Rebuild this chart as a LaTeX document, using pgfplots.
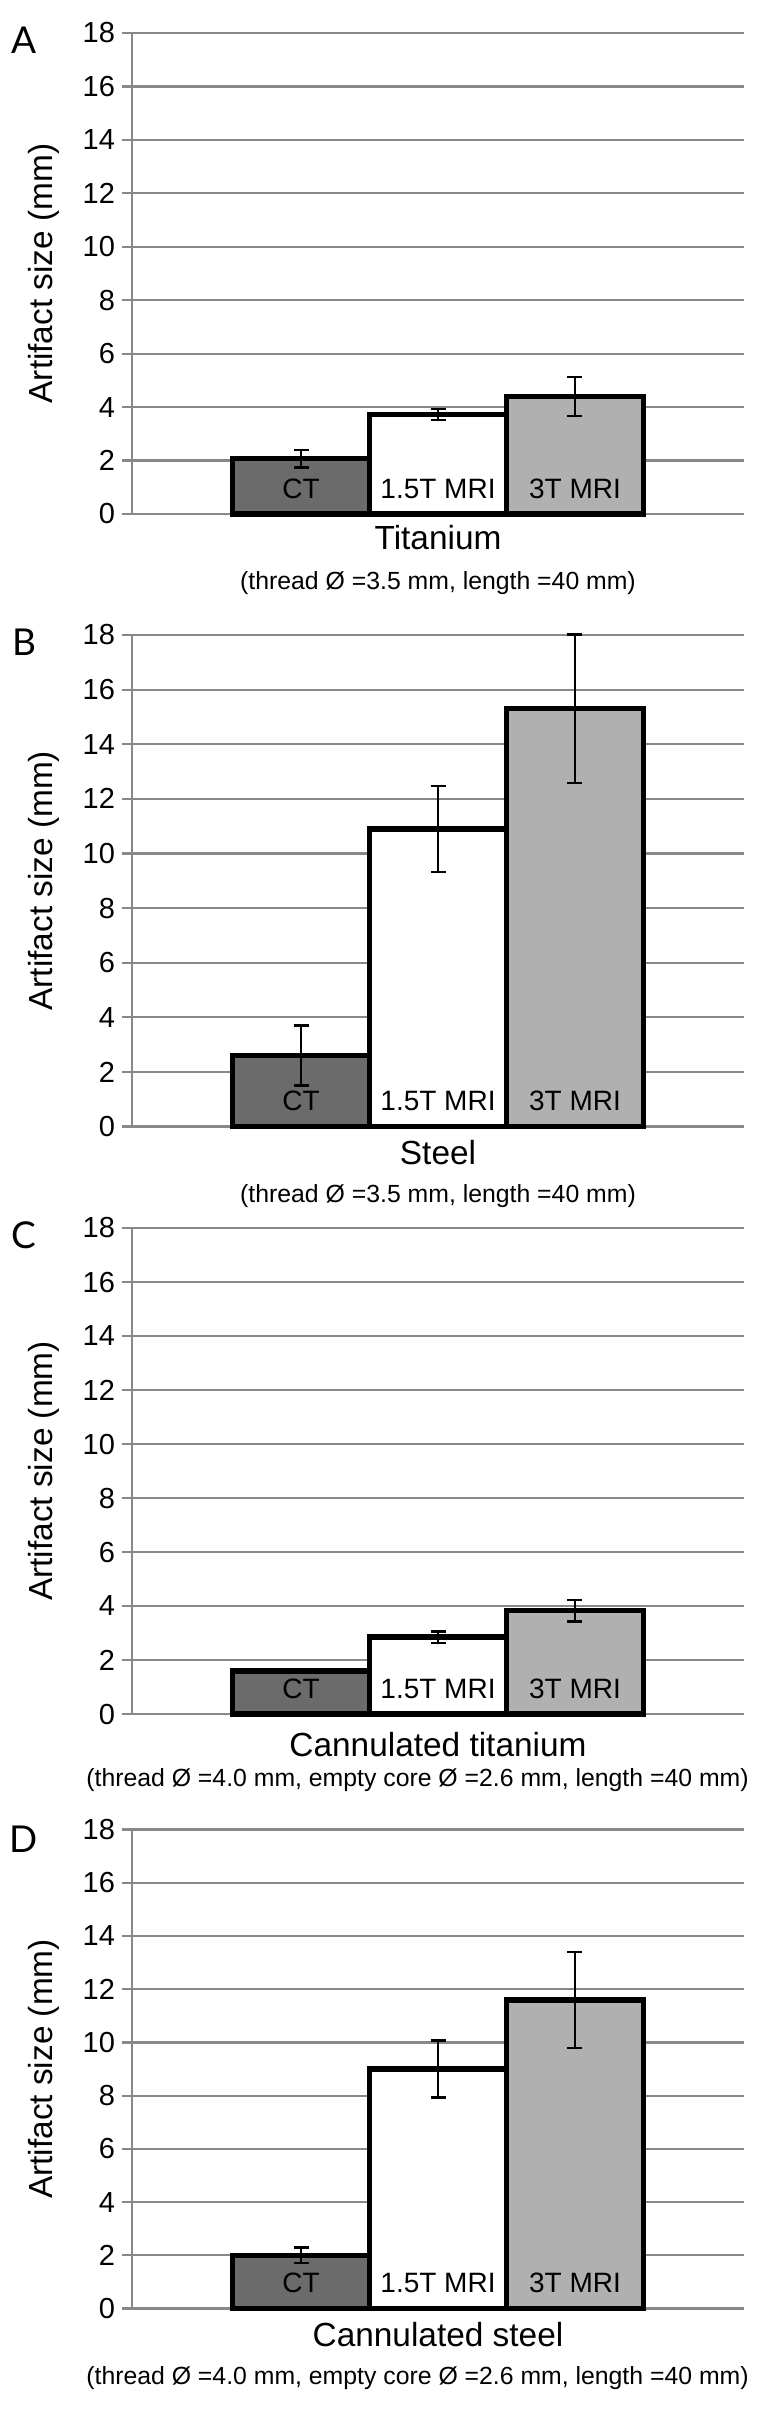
\documentclass[border=0pt]{standalone}
\usepackage{fontspec}
\setmainfont{Liberation Sans}
\newfontfamily\panelfont{Lato}
\usepackage{pgfplots}
\pgfplotsset{compat=1.18}
\definecolor{gridgray}{HTML}{888888}
\definecolor{ctgray}{HTML}{6B6B6B}
\definecolor{mrigray}{HTML}{B0B0B0}
\tikzset{barlab/.style={font=\fontsize{14}{17}\selectfont, anchor=base, yshift=8pt}}
\pgfplotsset{
  panel/.style={
    scale only axis, width=306pt,
    xmin=-0.234, xmax=4.234, ymin=0, ymax=18,
    ytick={0,2,...,18},
    xtick=\empty,
    axis lines*=left,
    axis line style={draw=gridgray, line width=1.1pt},
    ymajorgrids, grid style={draw=gridgray, line width=1.1pt},
    tick align=outside, major tick length=5pt,
    y tick style={draw=gridgray, line width=1.1pt},
    /pgf/number format/assume math mode=true,
    yticklabel style={font=\fontsize{14.5}{17}\selectfont},
    ylabel={Artifact size (mm)},
    ylabel style={font=\fontsize{16.7}{20}\selectfont, at={(axis description cs:-0.1438,0.5)}, anchor=center},
    clip=false,
  },
  barstyle/.style={ybar, bar width=1, bar shift=0pt, draw=black, line width=2.7pt,
    error bars/y dir=both, error bars/y explicit,
    error bars/error bar style={line width=1.1pt, black},
    error bars/error mark options={rotate=90, mark size=3.75pt, line width=1.1pt, black}},
}
\begin{document}
\begin{tikzpicture}
\useasboundingbox (0,0) rectangle (378pt,-1206pt);
% ---------- A ----------
\begin{axis}[panel, anchor=south west, at={(66pt,-257pt)}, height=240.5pt,
  xlabel={Titanium},
  xlabel style={font=\fontsize{16.7}{20}\selectfont, at={(axis description cs:0.5,-0.050)}, anchor=center}]
\addplot[barstyle, fill=ctgray] coordinates {(1,2.07) +- (0,0.33)};
\addplot[barstyle, fill=white] coordinates {(2,3.73) +- (0,0.2)};
\addplot[barstyle, fill=mrigray] coordinates {(3,4.4) +- (0,0.72)};
\node[barlab] at (axis cs:1,0) {CT};
\node[barlab] at (axis cs:2,0) {1.5T MRI};
\node[barlab] at (axis cs:3,0) {3T MRI};
\node[font=\fontsize{12.4}{15}\selectfont] at (axis description cs:0.5,-0.143) {(thread Ø =3.5 mm, length =40 mm)};
\node[font=\panelfont\fontsize{18.5}{22}\selectfont] at (axis description cs:-0.1765,0.985) {A};
\end{axis}
% ---------- B ----------
\begin{axis}[panel, anchor=south west, at={(66pt,-563.25pt)}, height=245.75pt,
  xlabel={Steel},
  xlabel style={font=\fontsize{16.7}{20}\selectfont, at={(axis description cs:0.5,-0.053)}, anchor=center}]
\addplot[barstyle, fill=ctgray] coordinates {(1,2.6) +- (0,1.1)};
\addplot[barstyle, fill=white] coordinates {(2,10.9) +- (0,1.58)};
\addplot[barstyle, fill=mrigray] coordinates {(3,15.3) +- (0,2.72)};
\node[barlab] at (axis cs:1,0) {CT};
\node[barlab] at (axis cs:2,0) {1.5T MRI};
\node[barlab] at (axis cs:3,0) {3T MRI};
\node[font=\fontsize{12.4}{15}\selectfont] at (axis description cs:0.5,-0.142) {(thread Ø =3.5 mm, length =40 mm)};
\node[font=\panelfont\fontsize{18.5}{22}\selectfont] at (axis description cs:-0.1765,0.985) {B};
\end{axis}
% ---------- C ----------
\begin{axis}[panel, anchor=south west, at={(66pt,-857pt)}, height=243pt,
  xlabel={Cannulated titanium},
  xlabel style={font=\fontsize{16.7}{20}\selectfont, at={(axis description cs:0.5,-0.063)}, anchor=center}]
\addplot[barstyle, fill=ctgray] coordinates {(1,1.6) +- (0,0.08)};
\addplot[barstyle, fill=white] coordinates {(2,2.85) +- (0,0.21)};
\addplot[barstyle, fill=mrigray] coordinates {(3,3.83) +- (0,0.4)};
\node[barlab] at (axis cs:1,0) {CT};
\node[barlab] at (axis cs:2,0) {1.5T MRI};
\node[barlab] at (axis cs:3,0) {3T MRI};
\node[font=\fontsize{12.4}{15}\selectfont] at (axis description cs:0.4665,-0.136) {(thread Ø =4.0 mm, empty core Ø =2.6 mm, length =40 mm)};
\node[font=\panelfont\fontsize{18.5}{22}\selectfont] at (axis description cs:-0.1765,0.985) {C};
\end{axis}
% ---------- D ----------
\begin{axis}[panel, anchor=south west, at={(66pt,-1154.25pt)}, height=239.5pt,
  xlabel={Cannulated steel},
  xlabel style={font=\fontsize{16.7}{20}\selectfont, at={(axis description cs:0.5,-0.055)}, anchor=center}]
\addplot[barstyle, fill=ctgray] coordinates {(1,2.0) +- (0,0.29)};
\addplot[barstyle, fill=white] coordinates {(2,9.0) +- (0,1.07)};
\addplot[barstyle, fill=mrigray] coordinates {(3,11.6) +- (0,1.8)};
\node[barlab] at (axis cs:1,0) {CT};
\node[barlab] at (axis cs:2,0) {1.5T MRI};
\node[barlab] at (axis cs:3,0) {3T MRI};
\node[font=\fontsize{12.4}{15}\selectfont] at (axis description cs:0.4665,-0.146) {(thread Ø =4.0 mm, empty core Ø =2.6 mm, length =40 mm)};
\node[font=\panelfont\fontsize{18.5}{22}\selectfont] at (axis description cs:-0.1765,0.98) {D};
\end{axis}
\end{tikzpicture}
\end{document}
